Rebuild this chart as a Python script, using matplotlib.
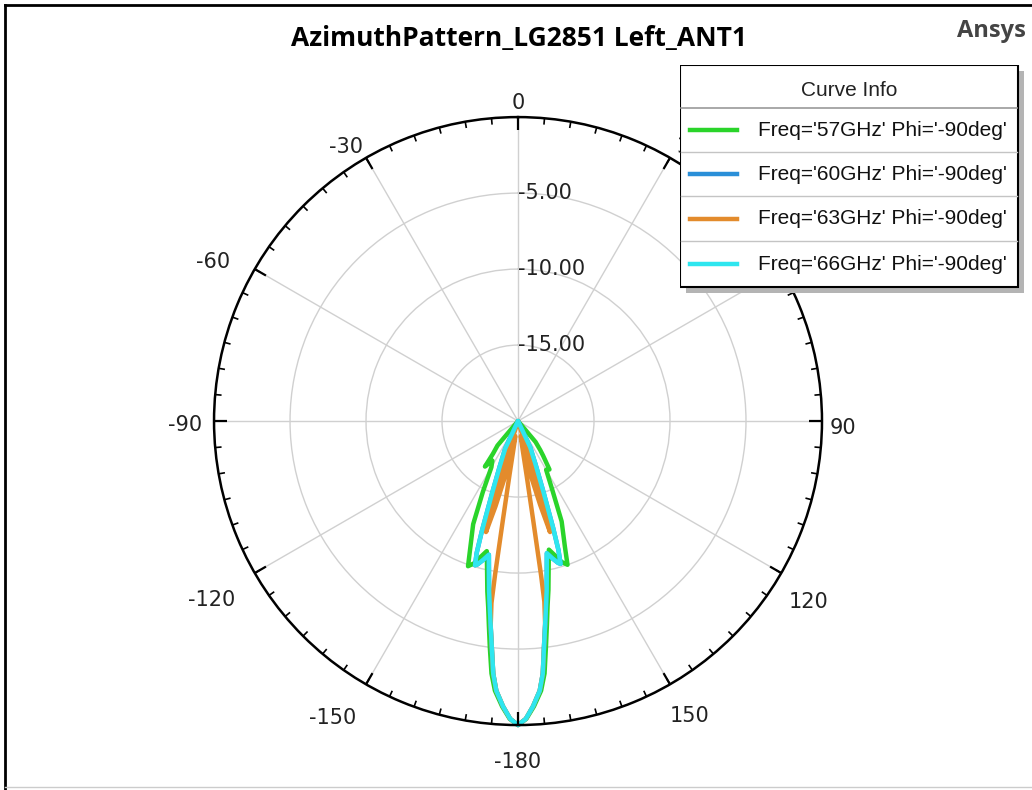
import numpy as np
import matplotlib
matplotlib.use("Agg")
import matplotlib.pyplot as plt
from matplotlib.patches import Rectangle
from matplotlib.lines import Line2D

plt.rcParams['font.family'] = ['Liberation Sans', 'DejaVu Sans']

# gain (dB) vs angle away from the -180 boresight (deg), left and right of it
off_57 = [0, 1.6, 3.2, 4.9, 6.0, 7.1, 8.1, 9.1, 10.2, 11.5, 13.5, 15.5, 17.2, 19.0, 20.5, 23.5, 26.4, 30.0, 33.0, 36.0, 37.5, 40.0, 44.0]
db_57_l = [0, -0.4, -1.2, -2.2, -3.3, -5.0, -6.4, -7.6, -8.6, -9.8, -11.2, -10.7, -10.2, -9.9, -11.0, -12.6, -14.8, -16.5, -16.9, -16.3, -17.3, -17.9, -20.0]
db_57_r = [0, -0.4, -1.2, -2.2, -3.3, -5.1, -6.5, -7.7, -8.7, -9.9, -11.3, -10.8, -10.3, -10.0, -11.2, -12.8, -14.9, -16.3, -16.2, -17.2, -17.6, -18.2, -20.0]

off_60 = [0, 1.5, 3.0, 4.6, 5.6, 6.6, 7.6, 8.6, 9.6, 10.8, 12.3, 14.0, 15.8, 16.6, 17.4, 18.2, 19.8, 22.0, 25.0, 30.0]
db_60_l = [0, -0.4, -1.2, -2.2, -3.3, -5.0, -6.4, -7.6, -8.6, -9.8, -11.0, -10.6, -10.2, -10.1, -10.9, -12.4, -15.0, -16.8, -18.0, -20.0]
db_60_r = [0, -0.4, -1.2, -2.2, -3.3, -5.1, -6.5, -7.7, -8.7, -9.9, -11.1, -10.7, -10.3, -10.2, -11.1, -12.6, -15.1, -16.9, -18.1, -20.0]

off_63 = [0, 1.5, 3.0, 4.6, 5.6, 6.6, 7.6, 8.3, 8.5, 8.7, 9.0, 9.5, 10.5, 11.8, 13.2, 14.8, 16.1, 16.8, 17.5, 18.3]
db_63_l = [0, -0.4, -1.2, -2.2, -3.3, -5.0, -6.4, -7.9, -9.8, -13.5, -16.5, -18.8, -19.0, -17.6, -16.2, -14.2, -12.4, -14.0, -17.0, -20.0]
db_63_r = [0, -0.4, -1.2, -2.2, -3.3, -5.1, -6.5, -8.0, -9.7, -13.4, -16.4, -18.7, -19.0, -17.7, -16.3, -14.3, -12.4, -14.2, -17.2, -20.0]

off_66 = [0, 1.5, 3.0, 4.6, 5.6, 6.6, 7.6, 8.6, 9.6, 10.8, 12.3, 14.0, 15.8, 16.6, 17.4, 18.2, 19.8, 22.0, 25.0, 30.0]
db_66_l = [0, -0.4, -1.2, -2.2, -3.3, -5.0, -6.4, -7.6, -8.6, -9.8, -11.0, -10.6, -10.2, -10.1, -10.9, -12.4, -15.0, -16.8, -18.0, -20.0]
db_66_r = [0, -0.4, -1.2, -2.2, -3.3, -5.1, -6.5, -7.7, -8.7, -9.9, -11.1, -10.7, -10.3, -10.2, -11.1, -12.6, -15.1, -16.9, -18.1, -20.0]

curves = [
    ("Freq='57GHz' Phi='-90deg'", off_57, db_57_l, db_57_r, '#2ad42a'),
    ("Freq='60GHz' Phi='-90deg'", off_60, db_60_l, db_60_r, '#2a8fd8'),
    ("Freq='63GHz' Phi='-90deg'", off_63, db_63_l, db_63_r, '#e38b2c'),
    ("Freq='66GHz' Phi='-90deg'", off_66, db_66_l, db_66_r, '#2ee6ef'),
]

r_ticks = [-15, -10, -5]
theta_ticks = [0, 30, 60, 90, 120, 150, 180, 210, 240, 270, 300, 330]
theta_labels = ['0', '30', '60', '90', '120', '150', '-180', '-150', '-120', '-90', '-60', '-30']
# label centre offsets from the rim, pixels (right, down)
label_off = [(0, -14), (20, -11), (40, -10), (21, 7), (27, 29), (20, 32),
             (0, 37), (-33, 34), (-43, 27), (-29, 4), (-42, -7), (-20, -11)]

W, H = 1032, 790
fig = plt.figure(figsize=(W / 100, H / 100), dpi=100)
ax = fig.add_axes([0.2074, 0.0822, 0.5891, 0.7696], projection='polar')
ax.set_theta_zero_location('N')
ax.set_theta_direction(-1)
ax.set_rlim(-20, 0)

for label, off, dl, dr, col in curves:
    off = np.asarray(off)
    th = np.concatenate([180 - off[::-1], 180 + off[1:]])
    rr = np.concatenate([np.asarray(dr)[::-1], np.asarray(dl)[1:]])
    ax.plot(np.deg2rad(th), rr, color=col, lw=3.2, clip_on=False,
            solid_joinstyle='round', solid_capstyle='round')

# grid and spine
ax.set_xticks(np.deg2rad(theta_ticks))
ax.set_xticklabels([])
ax.tick_params(axis='x', length=0)
ax.set_yticks(r_ticks)
ax.set_yticklabels([])
ax.tick_params(axis='y', length=0)
ax.grid(True, which='major', color='#d0d0d0', lw=1.0)
ax.spines['polar'].set_linewidth(1.8)
ax.spines['polar'].set_color('black')

# inward tick marks on the rim: long every 30 deg, short every 5 deg
minor = np.arange(0, 360, 5)
ax.vlines(np.deg2rad(minor), -0.42, 0, color='black', lw=1.2, clip_on=False)
ax.vlines(np.deg2rad(theta_ticks), -0.85, 0, color='black', lw=1.6, clip_on=False)

for v in r_ticks:
    ax.text(0, v, f'{v:.2f}', ha='left', va='center', fontsize=15, color='#222222',
            family='DejaVu Sans')

for ang, lab, (ox, oy) in zip(theta_ticks, theta_labels, label_off):
    if lab == '60':
        continue  # sits under the curve info box
    ax.annotate(lab, xy=(np.deg2rad(ang), 0), xytext=(ox, -oy), textcoords='offset pixels',
                ha='center', va='center', fontsize=15, color='#222222', family='DejaVu Sans',
                annotation_clip=False)

# curve info box
lax = fig.add_axes([680 / W, 1 - 294 / H, 346 / W, 229 / H])
lax.set_xlim(0, 346)
lax.set_ylim(229, 0)
lax.axis('off')
lax.add_patch(Rectangle((6, 6), 338, 222, fc='#b4b4b4', ec='none'))
lax.add_patch(Rectangle((0, 0), 338, 222, fc='white', ec='black', lw=1.5))
lax.text(169, 25, 'Curve Info', ha='center', va='center', fontsize=15, color='#222222')
lax.plot([1, 337], [43, 43], color='#999999', lw=1.2)
for y in [87, 131, 176]:
    lax.plot([1, 337], [y, y], color='#c4c4c4', lw=1.0)
for (label, off, dl, dr, col), y in zip(curves, [65, 109, 153.5, 199]):
    lax.plot([10, 57], [y, y], color=col, lw=3.2)
    lax.text(78, y, label, ha='left', va='center', fontsize=15, color='#111111')

fig.text(519 / W, 1 - 38 / H, 'AzimuthPattern_LG2851 Left_ANT1', ha='center', va='center',
         fontsize=19, fontweight='bold', family=['Open Sans', 'DejaVu Sans'])
fig.text(957 / W, 1 - 31 / H, 'Ansys', ha='left', va='center', fontsize=17,
         fontweight='bold', color='#444444', family=['Open Sans', 'DejaVu Sans'])

# window frame
fig.add_artist(Line2D([5 / W, 5 / W], [0, 1 - 5 / H], color='black', lw=2, transform=fig.transFigure))
fig.add_artist(Line2D([5 / W, 1], [1 - 5 / H, 1 - 5 / H], color='black', lw=2, transform=fig.transFigure))
fig.add_artist(Line2D([5 / W, 1], [1 - 787 / H, 1 - 787 / H], color='#cccccc', lw=1, transform=fig.transFigure))

fig.savefig('out.png', dpi=100)
